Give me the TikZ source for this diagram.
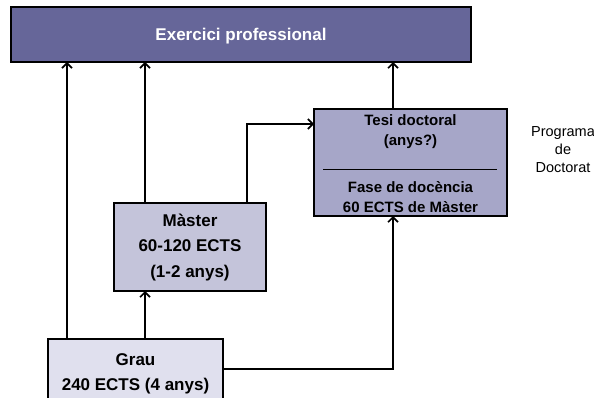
\documentclass[tikz,border=0pt]{standalone}
\usepackage{fontspec}
\setmainfont{Liberation Sans}
\usetikzlibrary{arrows.meta,calc}
\definecolor{topfill}{RGB}{102,102,153}
\definecolor{tesifill}{RGB}{166,166,200}
\definecolor{masterfill}{RGB}{196,196,218}
\definecolor{graufill}{RGB}{224,224,238}
\tikzset{
  boxshape/.style={draw=black, line width=1.8pt, inner sep=0pt, outer sep=0pt},
  boldtxt/.style={font=\fontsize{17}{25.5}\selectfont\bfseries, align=center, inner sep=0pt},
  tesitxt/.style={font=\fontsize{15}{20}\selectfont\bfseries, align=center, inner sep=0pt},
  progtxt/.style={font=\fontsize{14.5}{18}\selectfont, align=center, inner sep=0pt},
  arr/.style={line width=1.6pt, -{Straight Barb[length=5pt,width=10pt,line width=1.6pt]}},
  conn/.style={line width=1.6pt}
}
\begin{document}
\begin{tikzpicture}[x=1pt,y=-1pt]
\useasboundingbox (0,0) rectangle (594,398);
\clip (0,0) rectangle (594,398);
% boxes
\node[boxshape, fill=topfill, minimum width=460pt, minimum height=55pt] (top) at (241,34.5) {};
\node[font=\fontsize{17}{20}\selectfont\bfseries, text=white, inner sep=0pt] (toptxt) at (241,36) {Exercici professional};

\node[boxshape, fill=tesifill, minimum width=193pt, minimum height=107pt] (tesi) at (410.5,162.5) {};
\node[tesitxt] (tesitxt1) at (410.5,132) {Tesi doctoral\\(anys?)};
\draw[line width=0.6pt] (323,169) -- (497,169);
\node[tesitxt] (tesitxt2) at (410.5,197) {Fase de docència\\60 ECTS de Màster};

\node[boxshape, fill=masterfill, minimum width=152pt, minimum height=88pt] (master) at (190,247) {};
\node[boldtxt] (mastertxt) at (190,247.5) {Màster\\60-120 ECTS\\(1-2 anys)};

\node[boxshape, fill=graufill, minimum width=175pt, minimum height=90pt] (grau) at (135.5,384) {};
\node[boldtxt] (grautxt) at (135.5,374) {Grau\\240 ECTS (4 anys)};

\node[progtxt] (prog) at (563,150) {Programa\\de\\Doctorat};

% connector anchors
\coordinate (g1) at ($(grau.north west)+(19,0)$);
\coordinate (g2) at ($(grau.north west)+(97,0)$);
\coordinate (m1) at ($(master.north west)+(31,0)$);
\coordinate (m2) at ($(master.north west)+(133,0)$);
\coordinate (ge) at (grau.east |- 0,369);
\coordinate (tb) at ($(tesi.south west)+(79,0)$);
\coordinate (tt) at ($(tesi.north west)+(79,0)$);
\coordinate (tw) at (tesi.west |- 0,124);

% connectors
\draw[arr] (g1) -- (g1 |- top.south);
\draw[arr] (g2) -- (master.south -| g2);
\draw[arr] (m1) -- (m1 |- top.south);
\draw[arr] (m2) |- (tw);
\draw[arr] (tt) -- (tt |- top.south);
\draw[arr] (ge) -| (tb);
\end{tikzpicture}
\end{document}
